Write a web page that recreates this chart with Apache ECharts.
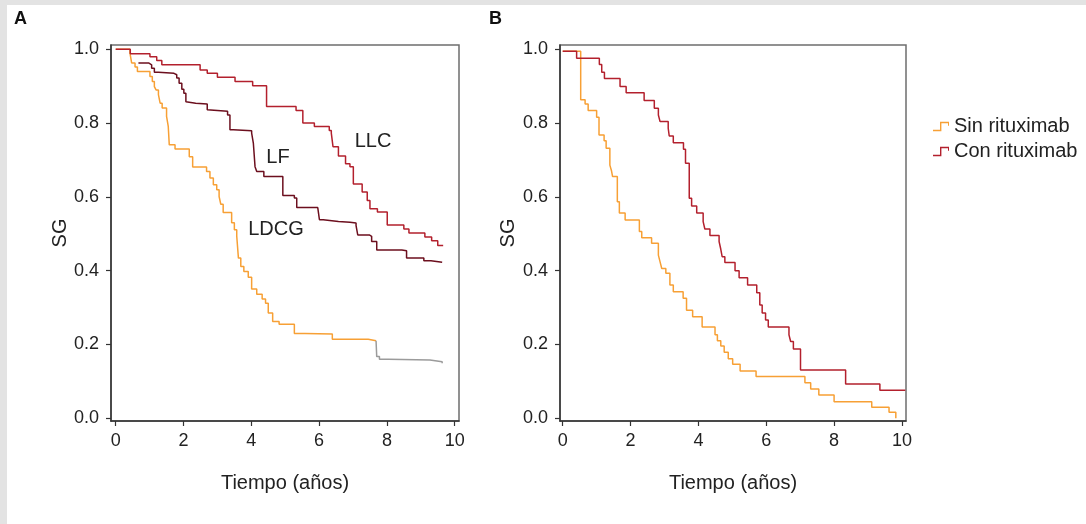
<!DOCTYPE html>
<html>
<head>
<meta charset="utf-8">
<script src="https://cdn.jsdelivr.net/npm/echarts@6/dist/echarts.min.js"></script>
<style>
html,body{margin:0;padding:0;background:#fff;}
#bandTop{position:absolute;left:0;top:0;width:1086px;height:5px;background:#e3e3e3;}
#bandLeft{position:absolute;left:0;top:0;width:7px;height:524px;background:#e3e3e3;}
#chart{position:absolute;left:0;top:0;width:1086px;height:524px;z-index:1;}
</style>
</head>
<body>
<div id="bandTop"></div><div id="bandLeft"></div>
<div id="chart"></div>
<script>
// ---- Tick labels ----
const xTickValues = [0, 2, 4, 6, 8, 10];
const yTickValues = [0, 0.2, 0.4, 0.6, 0.8, 1.0];

// ---- Panel A: LDCG ----
const ldcgTime = [0, 0.42, 0.47, 0.57, 0.64, 1.01, 1.08, 1.14, 1.19, 1.26, 1.31, 1.37, 1.50, 1.55, 1.58, 1.75, 2.17, 2.27, 2.68, 2.78, 2.88, 2.98, 3.05, 3.10, 3.17, 3.42, 3.50, 3.57, 3.62, 3.69, 3.78, 3.91, 4.01, 4.16, 4.32, 4.42, 4.50, 4.63, 4.82, 5.27, 5.58, 6.39, 7.45, 7.68];
const ldcgSurv = [1.0, 0.990, 0.963, 0.952, 0.940, 0.926, 0.913, 0.899, 0.890, 0.877, 0.854, 0.841, 0.818, 0.791, 0.741, 0.730, 0.709, 0.681, 0.669, 0.651, 0.633, 0.619, 0.601, 0.580, 0.558, 0.530, 0.511, 0.494, 0.434, 0.411, 0.398, 0.382, 0.350, 0.336, 0.323, 0.312, 0.285, 0.262, 0.255, 0.230, 0.228, 0.214, 0.210, 0.210];
// continuation (grey)
const ldcgTailTime = [7.68, 7.70, 7.78, 8.04, 9.27, 9.63];
const ldcgTailSurv = [0.210, 0.167, 0.160, 0.158, 0.153, 0.149];

// ---- Panel A: LF ----
const lfTime = [0.67, 0.97, 1.06, 1.14, 1.26, 1.72, 1.80, 1.87, 1.95, 2.01, 2.07, 2.11, 2.36, 2.70, 2.73, 3.30, 3.37, 3.47, 4.01, 4.06, 4.11, 4.16, 4.37, 4.93, 5.27, 5.34, 5.96, 6.01, 6.12, 6.57, 6.91, 7.09, 7.14, 7.48, 7.55, 7.70, 8.44, 8.58, 9.09, 9.30, 9.63];
const lfSurv = [0.963, 0.958, 0.949, 0.938, 0.935, 0.931, 0.922, 0.908, 0.892, 0.881, 0.858, 0.854, 0.852, 0.836, 0.832, 0.822, 0.782, 0.779, 0.773, 0.746, 0.682, 0.669, 0.655, 0.604, 0.597, 0.571, 0.568, 0.538, 0.533, 0.531, 0.529, 0.522, 0.497, 0.493, 0.479, 0.456, 0.454, 0.434, 0.427, 0.423, 0.423];

// ---- Panel A: LLC ----
const llcTime = [0, 0.43, 1.01, 1.21, 1.36, 2.49, 2.70, 3.00, 3.52, 4.04, 4.45, 5.32, 5.52, 5.86, 6.30, 6.36, 6.41, 6.57, 6.78, 6.91, 7.01, 7.27, 7.42, 7.50, 7.72, 8.01, 8.50, 8.65, 9.12, 9.32, 9.50, 9.66];
const llcSurv = [1.0, 0.988, 0.980, 0.970, 0.958, 0.944, 0.935, 0.924, 0.913, 0.901, 0.845, 0.834, 0.800, 0.791, 0.780, 0.773, 0.736, 0.711, 0.690, 0.682, 0.635, 0.613, 0.590, 0.568, 0.559, 0.524, 0.513, 0.502, 0.491, 0.481, 0.468, 0.468];

// ---- Panel B: Sin rituximab ----
const sinTime = [0, 0.53, 0.66, 0.75, 1.00, 1.07, 1.22, 1.28, 1.39, 1.44, 1.47, 1.61, 1.67, 1.84, 2.26, 2.33, 2.62, 2.82, 2.87, 2.92, 3.04, 3.16, 3.26, 3.55, 3.65, 3.83, 4.11, 4.49, 4.56, 4.66, 4.76, 4.88, 5.01, 5.23, 5.70, 7.14, 7.31, 7.55, 8.00, 9.11, 9.62, 9.82];
const sinSurv = [0.995, 0.863, 0.852, 0.834, 0.816, 0.768, 0.752, 0.732, 0.686, 0.670, 0.655, 0.587, 0.556, 0.537, 0.506, 0.489, 0.474, 0.442, 0.424, 0.406, 0.393, 0.361, 0.343, 0.325, 0.293, 0.275, 0.247, 0.226, 0.210, 0.196, 0.179, 0.161, 0.146, 0.128, 0.113, 0.096, 0.079, 0.063, 0.045, 0.030, 0.016, 0.0];

// ---- Panel B: Con rituximab ----
const conTime = [0, 0.41, 1.08, 1.15, 1.23, 1.69, 1.87, 2.40, 2.70, 2.82, 2.87, 3.11, 3.14, 3.26, 3.56, 3.62, 3.73, 3.80, 3.95, 4.14, 4.19, 4.34, 4.61, 4.66, 4.70, 4.78, 5.08, 5.20, 5.45, 5.72, 5.81, 5.88, 5.98, 6.06, 6.67, 6.72, 6.80, 7.01, 8.34, 9.35, 10.1];
const conSurv = [0.995, 0.976, 0.959, 0.938, 0.921, 0.899, 0.882, 0.861, 0.840, 0.822, 0.804, 0.786, 0.765, 0.747, 0.729, 0.691, 0.596, 0.575, 0.556, 0.533, 0.513, 0.495, 0.479, 0.458, 0.438, 0.422, 0.400, 0.381, 0.361, 0.340, 0.307, 0.285, 0.266, 0.247, 0.226, 0.208, 0.188, 0.131, 0.093, 0.076, 0.076];

const ORANGE = '#F7A035';
const RED = '#B3202D';
const DARK = '#6C0F1E';
const GREY = '#9B9B9B';
const FONT = '"Liberation Sans", Arial, Helvetica, sans-serif';

function pairs(t, s) { return t.map((v, i) => [v, s[i]]); }

const chart = echarts.init(document.getElementById('chart'), null, { renderer: 'canvas' });

function xAxisDef(gi, min, max) {
  return {
    type: 'value', gridIndex: gi, min: min, max: max,
    name: 'Tiempo (años)', nameLocation: 'middle', nameGap: 52,
    nameTextStyle: { fontFamily: FONT, fontSize: 20, color: '#222' },
    axisLine: { show: true, onZero: false, lineStyle: { color: '#333', width: 1.5 } },
    axisTick: { show: true, length: 5, lineStyle: { color: '#333', width: 1.2 }, customValues: xTickValues },
    axisLabel: { fontFamily: FONT, fontSize: 18, color: '#222', margin: 11, customValues: xTickValues, formatter: v => String(Math.round(v)) },
    splitLine: { show: false }
  };
}
function yAxisDef(gi, gap) {
  return {
    type: 'value', gridIndex: gi, min: -0.0075, max: 1.0117,
    name: 'SG', nameLocation: 'middle', nameGap: gap, nameRotate: 90,
    nameTextStyle: { fontFamily: FONT, fontSize: 20, color: '#222' },
    axisLine: { show: true, onZero: false, lineStyle: { color: '#333', width: 1.5 } },
    axisTick: { show: true, length: 5, lineStyle: { color: '#333', width: 1.2 }, customValues: yTickValues },
    axisLabel: { fontFamily: FONT, fontSize: 18, color: '#222', margin: 12, customValues: yTickValues, formatter: v => v.toFixed(1) },
    splitLine: { show: false }
  };
}

function stepSeries(name, t, s, color, xi, yi) {
  return {
    name: name, type: 'line', step: 'end', xAxisIndex: xi, yAxisIndex: yi,
    data: pairs(t, s), showSymbol: false, symbol: 'none', silent: true,
    lineStyle: { color: color, width: 1.5 }, itemStyle: { color: color },
    animation: false
  };
}

const stepIcon = 'path://M0,9 L7,9 L7,1 L16,1 L16,5 L15,5 L15,2.4 L8.4,2.4 L8.4,10.4 L0,10.4 Z';

chart.setOption({
  animation: false,
  grid: [
    { left: 111, top: 45, width: 348, height: 376, show: true, borderColor: '#6e6e6e', borderWidth: 1.5, backgroundColor: 'transparent' },
    { left: 560, top: 45, width: 346, height: 376, show: true, borderColor: '#6e6e6e', borderWidth: 1.5, backgroundColor: 'transparent' }
  ],
  xAxis: [xAxisDef(0, -0.139, 10.127), xAxisDef(1, -0.08, 10.12)],
  yAxis: [yAxisDef(0, 37), yAxisDef(1, 42)],
  legend: {
    orient: 'vertical', left: 928, top: 111, itemWidth: 16, itemHeight: 11, itemGap: 4,
    icon: stepIcon,
    data: ['Sin rituximab', 'Con rituximab'],
    textStyle: { fontFamily: FONT, fontSize: 20, color: '#222', lineHeight: 21 },
    selectedMode: false
  },
  graphic: [
    { type: 'text', left: 14, top: 10, style: { text: 'A', font: 'bold 18px ' + FONT, fill: '#111' } },
    { type: 'text', left: 489, top: 10, style: { text: 'B', font: 'bold 18px ' + FONT, fill: '#111' } },
    { type: 'text', x: 373, y: 141, style: { text: 'LLC', font: '20px ' + FONT, fill: '#222', align: 'center', verticalAlign: 'middle' } },
    { type: 'text', x: 278, y: 157, style: { text: 'LF', font: '20px ' + FONT, fill: '#222', align: 'center', verticalAlign: 'middle' } },
    { type: 'text', x: 276, y: 229, style: { text: 'LDCG', font: '20px ' + FONT, fill: '#222', align: 'center', verticalAlign: 'middle' } }
  ],
  series: [
    stepSeries('LDCG', ldcgTime, ldcgSurv, ORANGE, 0, 0),
    stepSeries('LDCG (cont.)', ldcgTailTime, ldcgTailSurv, GREY, 0, 0),
    stepSeries('LF', lfTime, lfSurv, DARK, 0, 0),
    stepSeries('LLC', llcTime, llcSurv, RED, 0, 0),
    stepSeries('Sin rituximab', sinTime, sinSurv, ORANGE, 1, 1),
    stepSeries('Con rituximab', conTime, conSurv, RED, 1, 1)
  ]
});
</script>
</body>
</html>
